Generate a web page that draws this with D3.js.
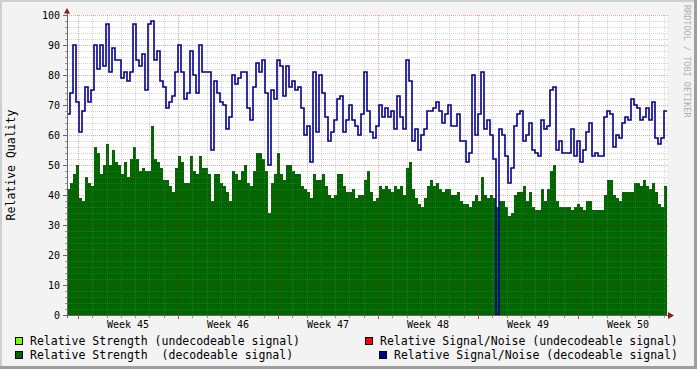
<!DOCTYPE html>
<html>
<head>
<meta charset="utf-8">
<script src="https://cdn.jsdelivr.net/npm/d3@7"></script>
<style>
  body { margin: 0; background: #f3f3f3; }
  svg { display: block; }
  text { font-family: "DejaVu Sans Mono", monospace; }
</style>
</head>
<body>
<svg id="chart" width="697" height="369"></svg>
<script>
// one pixel = 6048 s; samples every 3 px, starting 11 px before Monday of week 45
const pxMs = 6048 * 1000;
const startTime = Date.UTC(2008, 10, 3) - 11 * pxMs;
const stepMs = 3 * pxMs;

// relative strength, decodeable signal
const strengthDecodeable = [
  42,44,47,50,39,38,46,44,43,56, 54,47,50,57,50,55,51,50,47,51,
  46,52,56,52,48,49,48,48,63,52, 51,49,45,45,43,41,49,53,51,44,
  44,53,48,47,53,49,49,47,38,47, 47,44,43,41,38,48,47,45,48,50,
  44,43,48,54,54,52,48,34,
  44,47,54,47,45,50,50,48,47,47, 43,42,41,39,47,45,45,47,43,40,
  39,40,47,47,43,41,41,42,39,40, 40,45,48,41,38,39,43,42,43,42,
  41,43,42,43,40,49,51,42,39,37, 36,39,43,45,43,44,42,41,42,42,
  40,40,41,38,37,37,
  36,38,40,38,46,40,39,40,39,36, 38,38,36,33,34,40,41,41,43,38,
  41,36,35,35,42,38,42,48,50,38, 36,36,36,36,35,36,37,36,35,38,
  38,35,35,35,35,40,45,45,40,39, 38,41,41,41,41,44,44,43,45,43,
  42,44,41,37,36,43
];

// relative signal/noise, decodeable signal
const snrDecodeable = [
  67,74,90,71,61,68,76,71,75,90, 82,90,83,97,81,89,85,85,79,81,
  78,81,97,85,83,87,75,97,98,85, 88,78,76,69,71,73,81,90,81,72,
  74,88,80,74,90,81,81,81,55,78, 74,71,70,62,66,80,77,79,81,81,
  69,65,76,84,81,85,74,50,
  75,72,85,83,73,83,76,78,75,76, 69,60,63,51,81,61,80,74,66,58,
  61,65,72,73,61,65,70,65,63,60, 67,81,68,61,59,63,70,66,69,66,
  68,62,73,66,62,85,78,58,62,55, 60,62,68,68,69,71,68,64,67,70,
  63,63,67,58,58,51,
  54,80,60,67,81,62,65,60,52,0, 62,60,53,44,49,63,67,68,58,60,
  64,55,54,53,65,62,63,75,76,55, 58,54,54,54,62,53,58,51,55,61,
  64,53,54,53,53,66,68,67,56,60, 59,64,66,65,72,70,69,65,66,69,
  65,71,59,57,59,68
];

const yTicks = [0, 10, 20, 30, 40, 50, 60, 70, 80, 90, 100];
const legendItems = [
  "Relative Strength (undecodeable signal)",
  "Relative Strength  (decodeable signal)",
  "Relative Signal/Noise (undecodeable signal)",
  "Relative Signal/Noise (decodeable signal)"
];
const legendColors = ["#80ff00", "#006600", "#ff0000", "#000090"];

const svg = d3.select("#chart");
const W = 697, H = 369;

/* canvas + 3d border */
svg.append("rect").attr("width", W).attr("height", H).attr("fill", "#f3f3f3");
svg.append("rect").attr("x", 0).attr("y", 0).attr("width", W).attr("height", 2).attr("fill", "#cfcfcf");
svg.append("rect").attr("x", 0).attr("y", 0).attr("width", 2).attr("height", H).attr("fill", "#cfcfcf");
svg.append("rect").attr("x", 0).attr("y", H - 3).attr("width", W).attr("height", 3).attr("fill", "#9e9e9e");
svg.append("rect").attr("x", W - 3).attr("y", 0).attr("width", 3).attr("height", H).attr("fill", "#9e9e9e");

/* scales */
const endTime = startTime + strengthDecodeable.length * stepMs;
const x = d3.scaleUtc().domain([new Date(startTime), new Date(endTime)]).range([67, 667]);
const y = d3.scaleLinear().domain([0, 100]).range([315, 15]);

svg.append("rect").attr("x", 67).attr("y", 15).attr("width", 600).attr("height", 300).attr("fill", "#ffffff");

const toPoints = arr => {
  const pts = arr.map((v, i) => ({ t: new Date(startTime + i * stepMs), v }));
  pts.push({ t: new Date(endTime), v: arr[arr.length - 1] });
  return pts;
};

/* green area */
const area = d3.area()
  .x(d => x(d.t)).y0(y(0)).y1(d => y(d.v))
  .curve(d3.curveStepAfter);
svg.append("path")
  .datum(toPoints(strengthDecodeable))
  .attr("d", area)
  .attr("fill", "#006600");

/* grid (drawn over the area, like rrdtool) */
const grid = svg.append("g").attr("shape-rendering", "crispEdges");
const minorY = d3.range(2, 100, 2).filter(v => v % 10 !== 0);
const majorY = yTicks.filter(v => v > 0);
const days = d3.utcDay.range(new Date(startTime), new Date(endTime));
const weeks = d3.utcMonday.range(new Date(startTime), new Date(endTime));
const minorX = days.filter(d => d.getUTCDay() !== 1);
const px = v => Math.round(v) + 0.5;

grid.selectAll("line.hmin").data(minorY).join("line")
  .attr("x1", 67).attr("x2", 668).attr("y1", d => px(y(d))).attr("y2", d => px(y(d)))
  .attr("stroke", "rgba(128,128,128,0.35)").attr("stroke-dasharray", "1,1");
grid.selectAll("line.vmin").data(minorX).join("line")
  .attr("x1", d => px(x(d))).attr("x2", d => px(x(d))).attr("y1", 15).attr("y2", 315)
  .attr("stroke", "rgba(128,128,128,0.35)").attr("stroke-dasharray", "1,1");
grid.selectAll("line.hmaj").data(majorY).join("line")
  .attr("x1", 67).attr("x2", 668).attr("y1", d => px(y(d))).attr("y2", d => px(y(d)))
  .attr("stroke", "rgba(200,0,0,0.35)").attr("stroke-dasharray", "1,1");
grid.selectAll("line.vmaj").data(weeks).join("line")
  .attr("x1", d => px(x(d))).attr("x2", d => px(x(d))).attr("y1", 15).attr("y2", 315)
  .attr("stroke", "rgba(200,0,0,0.35)").attr("stroke-dasharray", "1,1");

/* blue line */
const line = d3.line().x(d => x(d.t)).y(d => y(d.v)).curve(d3.curveStepAfter);
svg.append("path")
  .datum(toPoints(snrDecodeable))
  .attr("d", line)
  .attr("fill", "none")
  .attr("stroke", "#000090")
  .attr("stroke-width", 1.6);

/* axes */
const ax = svg.append("g").attr("shape-rendering", "crispEdges");
ax.append("line").attr("x1", 67.5).attr("x2", 67.5).attr("y1", 10).attr("y2", 318).attr("stroke", "#666");
ax.append("line").attr("x1", 64).attr("x2", 669).attr("y1", 315.5).attr("y2", 315.5).attr("stroke", "#666");
ax.selectAll("line.yt").data(yTicks).join("line")
  .attr("x1", 63).attr("x2", 67).attr("y1", d => px(y(d))).attr("y2", d => px(y(d)))
  .attr("stroke", "#666");
ax.selectAll("line.ytm").data(minorY).join("line")
  .attr("x1", 65).attr("x2", 67).attr("y1", d => px(y(d))).attr("y2", d => px(y(d)))
  .attr("stroke", "#999");
ax.selectAll("line.xt").data(days).join("line")
  .attr("x1", d => px(x(d))).attr("x2", d => px(x(d)))
  .attr("y1", 316).attr("y2", d => d.getUTCDay() === 1 ? 319 : 318)
  .attr("stroke", d => d.getUTCDay() === 1 ? "#c04040" : "#999");

svg.append("path").attr("d", "M64,13.5L70,13.5L67,8Z").attr("fill", "#8b1a1a");
svg.append("path").attr("d", "M668,312L668,319L674,315.5Z").attr("fill", "#8b1a1a");

/* tick labels */
svg.selectAll("text.ylab").data(yTicks).join("text")
  .attr("x", 60).attr("y", d => y(d) + 3.5)
  .attr("text-anchor", "end").attr("font-size", 10).attr("fill", "#000")
  .text(d => d);

const weekFmt = d3.utcFormat("Week %V");
svg.selectAll("text.xlab").data(weeks).join("text")
  .attr("x", d => x(new Date(+d + 3.5 * 864e5)))
  .attr("y", 328)
  .attr("text-anchor", "middle").attr("font-size", 10).attr("fill", "#000")
  .text(d => weekFmt(d));

svg.append("text")
  .attr("transform", "translate(15,165) rotate(-90)")
  .attr("text-anchor", "middle").attr("font-size", 11.5).attr("fill", "#000")
  .text("Relative Quality");

svg.append("text")
  .attr("transform", "translate(684,5) rotate(90)")
  .attr("font-size", 8.5).attr("fill", "#b0b0b0")
  .text("RRDTOOL / TOBI OETIKER");

/* legend */
const legendPos = [
  { bx: 15, tx: 30, y: 337 },
  { bx: 15, tx: 30, y: 351 },
  { bx: 365, tx: 380, y: 337 },
  { bx: 379, tx: 394, y: 351 }
];
const lg = svg.append("g");
legendItems.forEach((name, i) => {
  const p = legendPos[i];
  lg.append("rect")
    .attr("x", p.bx + 0.5).attr("y", p.y + 0.5).attr("width", 7).attr("height", 7)
    .attr("fill", legendColors[i]).attr("stroke", "#000").attr("stroke-width", 1);
  lg.append("text")
    .attr("x", p.tx).attr("y", p.y + 8)
    .attr("font-size", 11.5).attr("fill", "#000")
    .style("white-space", "pre")
    .text(name);
});
</script>
</body>
</html>
